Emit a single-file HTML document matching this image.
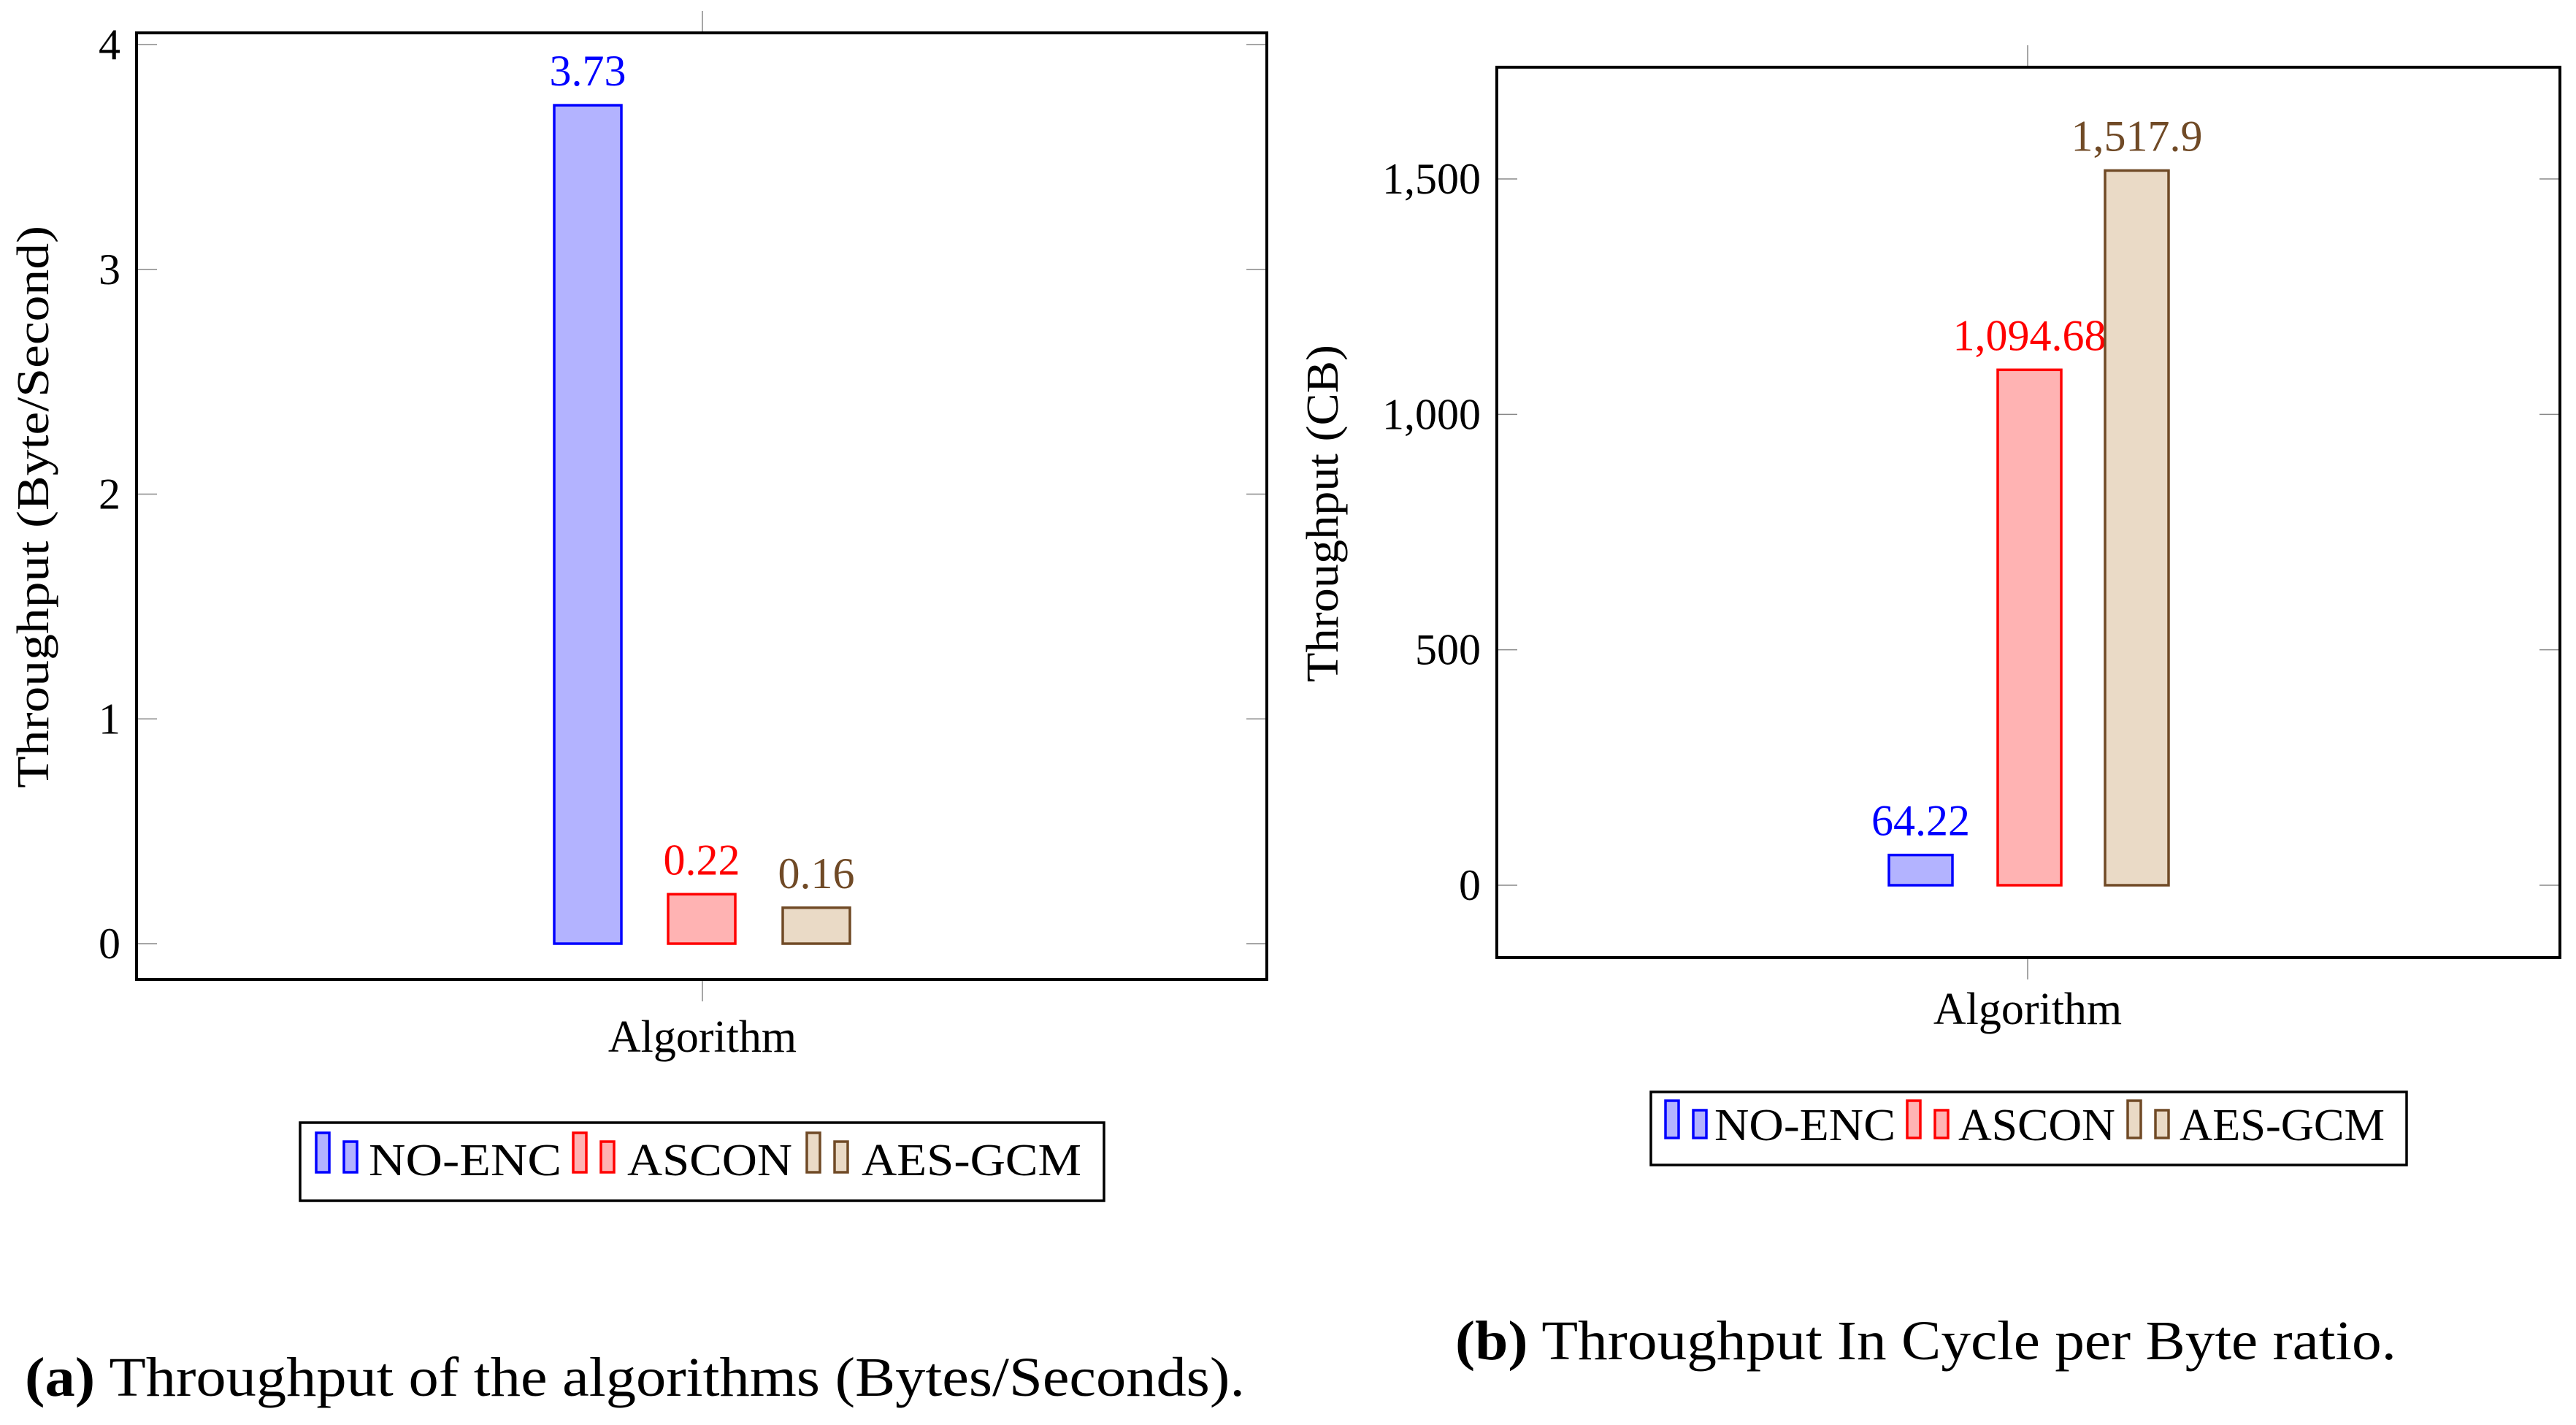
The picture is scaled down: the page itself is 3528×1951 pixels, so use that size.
<!DOCTYPE html>
<html><head><meta charset="utf-8"><style>
html,body{margin:0;padding:0;background:#fff}
svg{display:block}
text{font-family:"Liberation Serif",serif}
</style></head><body>
<svg id="c" width="3528" height="1951" viewBox="0 0 3528 1951" xmlns="http://www.w3.org/2000/svg"></svg>
<script>
const seriesNames = ["NO-ENC","ASCON","AES-GCM"];
const leftValues = [3.73, 0.22, 0.16];
const leftLabels = ["3.73","0.22","0.16"];
const leftTicks = [0,1,2,3,4];
const leftTickLabels = ["0","1","2","3","4"];
const rightValues = [64.22, 1094.68, 1517.9];
const rightLabels = ["64.22","1,094.68","1,517.9"];
const rightTicks = [0,500,1000,1500];
const rightTickLabels = ["0","500","1,000","1,500"];

const strokes = ["#0000ff","#ff0000","#704a26"];
const fills = ["#b3b3ff","#ffb3b3","#eadac6"];
const svg = document.getElementById('c');
const NS = "http://www.w3.org/2000/svg";
function mk(tag, attrs, parent){
  const e = document.createElementNS(NS, tag);
  for (const k in attrs) e.setAttribute(k, attrs[k]);
  (parent||svg).appendChild(e);
  return e;
}
function txt(s, attrs, parent){ const t = mk('text', attrs, parent); t.textContent = s; return t; }

function chart(cfg){
  const g = mk('g', {});
  
  
  const y = v => cfg.y0 - (v - 0) * cfg.pxPerUnit;
  // ticks
  cfg.ticks.forEach((t, i) => {
    const ty = y(t);
    const l1 = mk('line', {x1:cfg.L, x2:cfg.L+28, y1:ty, y2:ty, stroke:'#888', 'stroke-width':1.5}, g);
    
    
    const l2 = mk('line', {x1:cfg.R-28, x2:cfg.R, y1:ty, y2:ty, stroke:'#888', 'stroke-width':1.5}, g);
    
    
    const tl = txt(cfg.tickLabels[i], {x:cfg.L-22, y:ty+20, 'font-size':60, 'text-anchor':'end'}, g);
    
    
  });
  const t1 = mk('line', {x1:cfg.cx, x2:cfg.cx, y1:cfg.T-30, y2:cfg.T, stroke:'#888', 'stroke-width':1.5}, g);
  
  
  const t2 = mk('line', {x1:cfg.cx, x2:cfg.cx, y1:cfg.B, y2:cfg.B+30, stroke:'#888', 'stroke-width':1.5}, g);
  
  
  // bars
  cfg.values.forEach((v, i) => {
    const x = cfg.barX[i];
    const r = mk('rect', {x:x, y:y(v), width:cfg.bw, height:y(0)-y(v), fill:fills[i], stroke:strokes[i], 'stroke-width':3.5}, g);
    
    
    const vl = txt(cfg.labels[i], {x:x+cfg.bw/2, y:y(v)-27, 'font-size':60, 'text-anchor':'middle', fill:strokes[i]}, g);
    
    
  });
  const box = mk('rect', {x:cfg.L, y:cfg.T, width:cfg.R-cfg.L, height:cfg.B-cfg.T, fill:'none', stroke:'#000', 'stroke-width':4}, g);
  
  
  const xt = txt('Algorithm', {x:cfg.cx, y:cfg.xTitleY, 'font-size':62, 'text-anchor':'middle'}, g);
  
  
  const yt = txt(cfg.yTitle, {x:0, y:0, 'font-size':62, 'text-anchor':'middle', textLength:cfg.yTitleLen, lengthAdjust:'spacingAndGlyphs', transform:`translate(${cfg.yTitleX},${cfg.yTitleCY}) rotate(-90)`}, g);
  
  
  // legend
  const lg = mk('g', {}, g);
  
  
  const lb = cfg.leg;
  mk('rect', {x:lb.x, y:lb.y, width:lb.w, height:lb.h, fill:'#fff', stroke:'#000', 'stroke-width':3.5}, lg);
  seriesNames.forEach((n, i) => {
    const e = mk('g', {}, lg);
    
    
    const sx = lb.sw[i];
    mk('rect', {x:sx, y:lb.tallTop, width:18, height:lb.base-lb.tallTop, fill:fills[i], stroke:strokes[i], 'stroke-width':3.5}, e);
    mk('rect', {x:sx+38, y:lb.shortTop, width:18, height:lb.base-lb.shortTop, fill:fills[i], stroke:strokes[i], 'stroke-width':3.5}, e);
    txt(n, {x:lb.tx[i], y:lb.textY, 'font-size':62, textLength:lb.tw[i], lengthAdjust:'spacingAndGlyphs'}, e);
  });
  const cap = mk('text', {x:cfg.capX, y:cfg.capY, 'font-size':76, textLength:cfg.capW, lengthAdjust:'spacingAndGlyphs'}, g);
  
  
  const b = mk('tspan', {'font-weight':'bold'}, cap); b.textContent = cfg.capTag;
  const rest = mk('tspan', {}, cap); rest.textContent = ' ' + cfg.capText;
}

chart({name:'chart-throughput-bytes', L:187, R:1735, T:45, B:1341, y0:1292, pxPerUnit:(1292-61)/4, cx:962,
  ticks:leftTicks, tickLabels:leftTickLabels, values:leftValues, labels:leftLabels,
  barX:[759,915,1072], bw:92, xTitleY:1440, yTitle:'Throughput (Byte/Second)', yTitleX:66, yTitleCY:694, yTitleLen:770,
  leg:{x:411, y:1537, w:1101, h:107, sw:[433,785,1105], tx:[505,859,1180], tw:[264,226,301], tallTop:1551, shortTop:1563, base:1605, textY:1609},
  capX:34, capY:1911, capW:1671, capTag:'(a)', capText:'Throughput of the algorithms (Bytes/Seconds).'});

chart({name:'chart-throughput-cb', L:2050, R:3506, T:92, B:1311, y0:1212, pxPerUnit:(1212-245)/1500, cx:2777,
  ticks:rightTicks, tickLabels:rightTickLabels, values:rightValues, labels:rightLabels,
  barX:[2587,2736,2883], bw:87, xTitleY:1402, yTitle:'Throughput (CB)', yTitleX:1832, yTitleCY:703, yTitleLen:462,
  leg:{x:2261, y:1495, w:1035, h:100, sw:[2281,2612,2914], tx:[2348,2682,2985], tw:[248,215,281], tallTop:1507, shortTop:1520, base:1558, textY:1561},
  capX:1993, capY:1861, capW:1289, capTag:'(b)', capText:'Throughput In Cycle per Byte ratio.'});
</script>
</body></html>
